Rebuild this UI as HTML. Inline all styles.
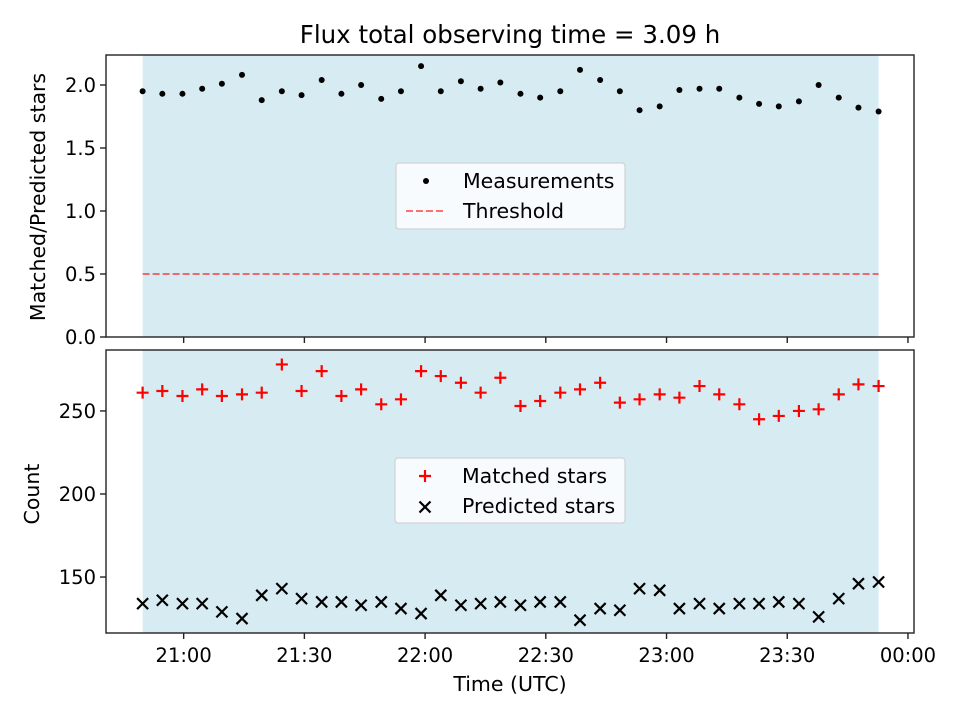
<!DOCTYPE html>
<html><head><meta charset="utf-8"><style>
body{margin:0;background:#fff}
svg{font-family:"DejaVu Sans","Liberation Sans",sans-serif}
</style></head><body>
<svg id="c" width="960" height="720" xmlns="http://www.w3.org/2000/svg"></svg>
<script>
const minutes=[-10.2,-5.3,-0.3,4.6,9.5,14.5,19.4,24.4,29.3,34.3,39.2,44.1,49.1,54.0,59.0,63.9,68.9,73.8,78.7,83.7,88.6,93.6,98.5,103.5,108.4,113.3,118.3,123.2,128.2,133.1,138.1,143.0,147.9,152.9,157.8,162.8,167.7,172.7];
const ratio=[1.95,1.93,1.93,1.97,2.01,2.08,1.88,1.95,1.92,2.04,1.93,2.00,1.89,1.95,2.15,1.95,2.03,1.97,2.02,1.93,1.90,1.95,2.12,2.04,1.95,1.80,1.83,1.96,1.97,1.97,1.90,1.85,1.83,1.87,2.00,1.90,1.82,1.79];
const matched=[261,262,259,263,259,260,261,278,262,274,259,263,254,257,274,271,267,261,270,253,256,261,263,267,255,257,260,258,265,260,254,245,247,250,251,260,266,265];
const predicted=[134,136,134,134,129,125,139,143,137,135,135,133,135,131,128,139,133,134,135,133,135,135,124,131,130,143,142,131,134,131,134,134,135,134,126,137,146,147];
const xTickLabels=["21:00","21:30","22:00","22:30","23:00","23:30","00:00"];
const xTickMinutes=[0,30,60,90,120,150,180];
const topYTicks=[0.0,0.5,1.0,1.5,2.0];
const botYTicks=[150,200,250];
const threshold=0.5;

const NS="http://www.w3.org/2000/svg";
const svg=document.getElementById('c');
function el(tag,attrs,parent){const e=document.createElementNS(NS,tag);for(const k in attrs)e.setAttribute(k,attrs[k]);(parent||svg).appendChild(e);return e;}
const L=106,R=914;
const xMin=-19.3,xMax=181.5;
const X=m=>L+(m-xMin)/(xMax-xMin)*(R-L);
const T={top:55,bot:337,min:0,max:2.238};
const B={top:350,bot:633,min:116.3,max:286.7};
const Yt=v=>T.bot-(v-T.min)/(T.max-T.min)*(T.bot-T.top);
const Yb=v=>B.bot-(v-B.min)/(B.max-B.min)*(B.bot-B.top);
const FS=20.5, TFS=19.5;

let t=el('text',{x:510,y:43,'text-anchor':'middle','font-size':24.5});t.textContent="Flux total observing time = 3.09 h";



function panel(P,name){
  const g=el('g',{});
  
  
  const s=el('rect',{x:X(minutes[0]),y:P.top,width:X(minutes[minutes.length-1])-X(minutes[0]),height:P.bot-P.top,fill:'#add8e6','fill-opacity':0.5},g);
  
  
  return g;
}
function frame(P,g){
  el('rect',{x:L,y:P.top,width:R-L,height:P.bot-P.top,fill:'none',stroke:'#222','stroke-width':1.4},g);
}
const gt=panel(T,'top-panel');
const th=el('line',{x1:X(minutes[0]),x2:X(minutes[minutes.length-1]),y1:Yt(threshold),y2:Yt(threshold),stroke:'#ff0000','stroke-opacity':0.55,'stroke-width':2,'stroke-dasharray':'7,3'},gt);


minutes.forEach((m,i)=>{
  const c=el('circle',{cx:X(m),cy:Yt(ratio[i]),r:3,fill:'#000'},gt);
  
  
});
frame(T,gt);
topYTicks.forEach(v=>{
  el('line',{x1:L,x2:L-6,y1:Yt(v),y2:Yt(v),stroke:'#222','stroke-width':1.4},gt);
  const tx=el('text',{x:L-10,y:Yt(v)+7,'text-anchor':'end','font-size':TFS},gt);tx.textContent=v.toFixed(1);
  
  
});
xTickMinutes.forEach(m=>{el('line',{x1:X(m),x2:X(m),y1:T.bot,y2:T.bot+6,stroke:'#222','stroke-width':1.4},gt);});
let yl=el('text',{transform:'translate(45,197) rotate(-90)','text-anchor':'middle','font-size':FS});yl.textContent="Matched/Predicted stars";



const gb=panel(B,'bottom-panel');
minutes.forEach((m,i)=>{
  const x=X(m),y=Yb(matched[i]);
  const p=el('path',{d:`M${x-6} ${y}H${x+6}M${x} ${y-6}V${y+6}`,stroke:'#ff0000','stroke-width':2.2,fill:'none'},gb);
  
  
  const y2=Yb(predicted[i]);
  const q=el('path',{d:`M${x-5.5} ${y2-5.5}L${x+5.5} ${y2+5.5}M${x-5.5} ${y2+5.5}L${x+5.5} ${y2-5.5}`,stroke:'#000','stroke-width':2.2,fill:'none'},gb);
  
  
});
frame(B,gb);
botYTicks.forEach(v=>{
  el('line',{x1:L,x2:L-6,y1:Yb(v),y2:Yb(v),stroke:'#222','stroke-width':1.4},gb);
  const tx=el('text',{x:L-10,y:Yb(v)+7,'text-anchor':'end','font-size':TFS},gb);tx.textContent=v;
  
  
});
xTickMinutes.forEach((m,i)=>{
  el('line',{x1:X(m),x2:X(m),y1:B.bot,y2:B.bot+6,stroke:'#222','stroke-width':1.4},gb);
  const tx=el('text',{x:X(m),y:662,'text-anchor':'middle','font-size':TFS},gb);tx.textContent=xTickLabels[i];
  
  
});
yl=el('text',{transform:'translate(39,494) rotate(-90)','text-anchor':'middle','font-size':FS});yl.textContent="Count";


let xl=el('text',{x:510,y:691,'text-anchor':'middle','font-size':FS});xl.textContent="Time (UTC)";



function legend(x,y,w,h,name){
  const g=el('g',{});
  
  
  el('rect',{x:x,y:y,width:w,height:h,rx:3,fill:'#fff','fill-opacity':0.8,stroke:'#ccc'},g);
  return g;
}
let lg=legend(396,163,229,66,'top-legend');
el('circle',{cx:426,cy:181,r:3,fill:'#000'},lg);
t=el('text',{x:463,y:188,'font-size':FS},lg);t.textContent="Measurements";
el('line',{x1:406,x2:446,y1:211,y2:211,stroke:'#ff0000','stroke-opacity':0.55,'stroke-width':2,'stroke-dasharray':'7,3'},lg);
t=el('text',{x:463,y:218,'font-size':FS},lg);t.textContent="Threshold";
lg=legend(395,458,230,65,'bottom-legend');
el('path',{d:'M419 476H431M425 470V482',stroke:'#ff0000','stroke-width':2.2},lg);
t=el('text',{x:462,y:483,'font-size':FS},lg);t.textContent="Matched stars";
el('path',{d:'M419.5 501.5L430.5 512.5M419.5 512.5L430.5 501.5',stroke:'#000','stroke-width':2.2},lg);
t=el('text',{x:462,y:513,'font-size':FS},lg);t.textContent="Predicted stars";
</script>
</body></html>
